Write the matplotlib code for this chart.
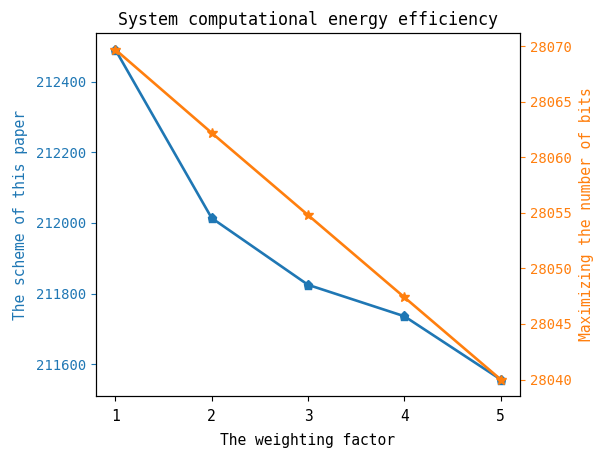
import matplotlib
matplotlib.use("Agg")
import matplotlib.pyplot as plt

weights = [1, 2, 3, 4, 5]
scheme_paper = [212491, 212014, 211825, 211736, 211557]
max_bits = [28069.7, 28062.2, 28054.8, 28047.4, 28040.0]

plt.rcParams['font.family'] = ['DejaVu Sans Mono']

fig = plt.figure(figsize=(5.94, 4.51), dpi=100)
ax = fig.add_axes([96/594, 1-396/451, (520-96)/594, (396-33)/451])
ax2 = ax.twinx()

c1 = '#1f77b4'
c2 = '#ff7f0e'
ax.plot(weights, scheme_paper, color=c1, marker='p', markersize=6.5, linewidth=1.9)
ax2.plot(weights, max_bits, color=c2, marker='*', markersize=7.5, linewidth=1.9)

ax.set_xticks(weights)
ax.set_xlabel('The weighting factor', fontsize=10.5, labelpad=6)
ax.set_ylabel('The scheme of this paper', color=c1, fontsize=10.5, labelpad=6)
ax2.set_ylabel('Maximizing the number of bits', color=c2, fontsize=10.5, labelpad=5)
ax.tick_params(axis='y', colors=c1, labelsize=10)
ax.tick_params(axis='x', labelsize=10.5, pad=6)
ax2.tick_params(axis='y', colors=c2, labelsize=10)
for a in (ax, ax2):
    for s in a.spines.values():
        s.set_color('black')
ax.set_title('System computational energy efficiency', fontsize=12)

fig.savefig('out.png', dpi=100)
